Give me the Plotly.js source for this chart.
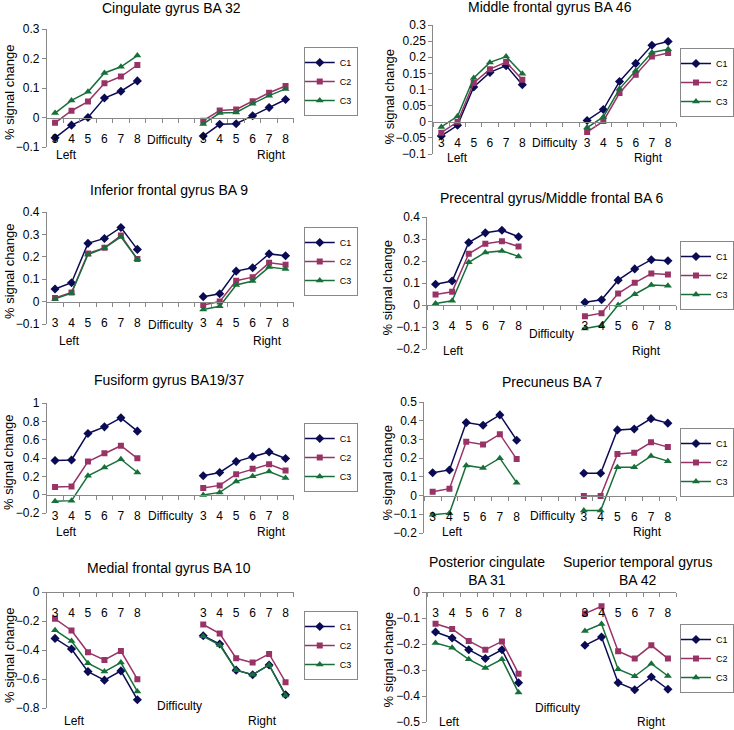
<!DOCTYPE html>
<html>
<head>
<meta charset="utf-8">
<script src="https://cdn.plot.ly/plotly-3.0.1.min.js"></script>
<style>
  html, body { margin: 0; padding: 0; background: #fff; }
  #chart { width: 734px; height: 730px; }
</style>
</head>
<body>
<div id="chart"></div>
<script>
// difficulty levels (same for left and right hemisphere)
const difficulty = [3, 4, 5, 6, 7, 8];
const diffLabels = ["3", "4", "5", "6", "7", "8"];
const condNames = ["C1", "C2", "C3"];

// Cingulate gyrus BA 32
const cing32_L1 = [-0.069, -0.026, 0.0, 0.066, 0.089, 0.124];
const cing32_L2 = [-0.018, 0.023, 0.054, 0.116, 0.139, 0.178];
const cing32_L3 = [0.015, 0.058, 0.087, 0.151, 0.172, 0.210];
const cing32_R1 = [-0.063, -0.023, -0.021, 0.006, 0.034, 0.061];
const cing32_R2 = [-0.011, 0.024, 0.027, 0.055, 0.084, 0.107];
const cing32_R3 = [-0.022, 0.015, 0.017, 0.047, 0.074, 0.097];

// Middle frontal gyrus BA 46
const mfg46_L1 = [-0.044, -0.011, 0.108, 0.153, 0.174, 0.115];
const mfg46_L2 = [-0.034, 0.0, 0.120, 0.163, 0.185, 0.130];
const mfg46_L3 = [-0.016, 0.017, 0.136, 0.184, 0.202, 0.149];
const mfg46_R1 = [0.004, 0.038, 0.125, 0.181, 0.237, 0.249];
const mfg46_R2 = [-0.032, 0.002, 0.089, 0.146, 0.202, 0.213];
const mfg46_R3 = [-0.018, 0.015, 0.102, 0.158, 0.215, 0.225];

// Inferior frontal gyrus BA 9
const ifg9_L1 = [0.056, 0.084, 0.260, 0.282, 0.331, 0.233];
const ifg9_L2 = [0.016, 0.041, 0.215, 0.240, 0.295, 0.190];
const ifg9_L3 = [0.012, 0.038, 0.210, 0.239, 0.289, 0.189];
const ifg9_R1 = [0.022, 0.035, 0.136, 0.151, 0.213, 0.205];
const ifg9_R2 = [-0.015, 0.0, 0.093, 0.109, 0.173, 0.164];
const ifg9_R3 = [-0.035, -0.021, 0.074, 0.092, 0.154, 0.145];

// Precentral gyrus / Middle frontal BA 6
const pcg6_L1 = [0.094, 0.109, 0.284, 0.328, 0.340, 0.310];
const pcg6_L2 = [0.048, 0.060, 0.233, 0.278, 0.290, 0.266];
const pcg6_L3 = [0.007, 0.019, 0.194, 0.239, 0.246, 0.221];
const pcg6_R1 = [0.012, 0.024, 0.113, 0.164, 0.206, 0.201];
const pcg6_R2 = [-0.051, -0.037, 0.052, 0.101, 0.143, 0.139];
const pcg6_R3 = [-0.107, -0.093, 0.0, 0.049, 0.091, 0.087];

// Fusiform gyrus BA19/37
const fus_L1 = [0.372, 0.379, 0.668, 0.740, 0.838, 0.693];
const fus_L2 = [0.083, 0.090, 0.361, 0.451, 0.534, 0.397];
const fus_L3 = [-0.072, -0.065, 0.206, 0.296, 0.386, 0.242];
const fus_R1 = [0.206, 0.242, 0.361, 0.415, 0.466, 0.394];
const fus_R2 = [0.072, 0.101, 0.224, 0.282, 0.332, 0.264];
const fus_R3 = [-0.004, 0.025, 0.144, 0.202, 0.253, 0.181];

// Precuneus BA 7
const prec7_L1 = [0.122, 0.137, 0.390, 0.376, 0.431, 0.296];
const prec7_L2 = [0.021, 0.037, 0.287, 0.273, 0.328, 0.195];
const prec7_L3 = [-0.103, -0.094, 0.161, 0.147, 0.200, 0.069];
const prec7_R1 = [0.119, 0.119, 0.351, 0.356, 0.411, 0.387];
const prec7_R2 = [-0.002, -0.002, 0.222, 0.229, 0.285, 0.259];
const prec7_R3 = [-0.080, -0.080, 0.151, 0.151, 0.211, 0.184];

// Medial frontal gyrus BA 10
const mefg10_L1 = [-0.320, -0.393, -0.549, -0.608, -0.544, -0.743];
const mefg10_L2 = [-0.185, -0.265, -0.416, -0.469, -0.407, -0.601];
const mefg10_L3 = [-0.263, -0.338, -0.491, -0.549, -0.487, -0.686];
const mefg10_R1 = [-0.302, -0.359, -0.539, -0.571, -0.503, -0.709];
const mefg10_R2 = [-0.224, -0.286, -0.457, -0.487, -0.427, -0.622];
const mefg10_R3 = [-0.306, -0.366, -0.539, -0.571, -0.503, -0.713];

// Posterior cingulate BA 31 (left) / Superior temporal gyrus BA 42 (right)
const pcstg_L1 = [-0.154, -0.177, -0.222, -0.256, -0.222, -0.349];
const pcstg_L2 = [-0.122, -0.142, -0.188, -0.222, -0.190, -0.314];
const pcstg_L3 = [-0.196, -0.214, -0.259, -0.292, -0.259, -0.387];
const pcstg_R1 = [-0.205, -0.173, -0.349, -0.376, -0.327, -0.374];
const pcstg_R2 = [-0.083, -0.055, -0.228, -0.256, -0.205, -0.256];
const pcstg_R3 = [-0.150, -0.123, -0.297, -0.324, -0.276, -0.323];

const W = 734, H = 730;
const FONT = "Liberation Sans, Arial, sans-serif";
const colors = ["#0b0b55", "#993366", "#17703a"];
const symbols = ["diamond", "square", "triangle-up"];
const rightOffset = 9; // right hemisphere sits 9 slots to the right

const fx = p => p / W;
const fy = p => 1 - p / H;

// geometry of each panel in pixels
const panels = [
  { titles: [["Cingulate gyrus BA 32", 172, 8]], x0: 47, x1: 295, top: 29, bot: 147,
    yr: [-0.1, 0.3], dtick: 0.1, L: [cing32_L1, cing32_L2, cing32_L3], R: [cing32_R1, cing32_R2, cing32_R3],
    leg: [305, 47], diff: [170, 140], left: [67, 155], right: [273, 155], ytitle: [9, 92] },
  { titles: [["Middle frontal gyrus BA 46", 552, 7]], x0: 435, x1: 679, top: 25, bot: 154,
    yr: [-0.1, 0.3], dtick: 0.05, L: [mfg46_L1, mfg46_L2, mfg46_L3], R: [mfg46_R1, mfg46_R2, mfg46_R3],
    leg: [737, 48], diff: [557, 143], left: [459, 158], right: [651, 158], ytitle: [392, 97] },
  { titles: [["Inferior frontal gyrus BA 9", 170, 190]], x0: 47, x1: 295, top: 212, bot: 324,
    yr: [-0.1, 0.4], dtick: 0.1, L: [ifg9_L1, ifg9_L2, ifg9_L3], R: [ifg9_R1, ifg9_R2, ifg9_R3],
    leg: [305, 227], diff: [171, 325], left: [70, 341], right: [269, 341], ytitle: [9, 271] },
  { titles: [["Precentral gyrus/Middle frontal BA 6", 554, 198]], x0: 429, x1: 679, top: 217, bot: 349,
    yr: [-0.2, 0.4], dtick: 0.1, L: [pcg6_L1, pcg6_L2, pcg6_L3], R: [pcg6_R1, pcg6_R2, pcg6_R3],
    leg: [737, 241], diff: [554, 334], left: [455, 351], right: [649, 351], ytitle: [390, 288] },
  { titles: [["Fusiform gyrus BA19/37", 170, 380]], x0: 47, x1: 295, top: 403, bot: 513,
    yr: [-0.2, 1], dtick: 0.2, L: [fus_L1, fus_L2, fus_L3], R: [fus_R1, fus_R2, fus_R3],
    leg: [305, 423], diff: [171, 516], left: [67, 532], right: [273, 532], ytitle: [9, 462] },
  { titles: [["Precuneus BA 7", 555, 382]], x0: 426, x1: 679, top: 402, bot: 533,
    yr: [-0.2, 0.5], dtick: 0.1, L: [prec7_L1, prec7_L2, prec7_L3], R: [prec7_R1, prec7_R2, prec7_R3],
    leg: [737, 428], diff: [555, 516], left: [454, 532], right: [650, 532], ytitle: [390, 473] },
  { titles: [["Medial frontal gyrus BA 10", 170, 568]], x0: 47, x1: 295, top: 592, bot: 708,
    yr: [-0.8, 0], dtick: 0.2, L: [mefg10_L1, mefg10_L2, mefg10_L3], R: [mefg10_R1, mefg10_R2, mefg10_R3],
    leg: [305, 611], diff: [180, 706], left: [75, 721], right: [264, 721], ytitle: [9, 655] },
  { titles: [["Posterior cingulate<br>BA 31", 489, 571], ["Superior temporal gyrus<br>BA 42", 640, 571]],
    x0: 429, x1: 679, top: 592, bot: 722,
    yr: [-0.5, 0], dtick: 0.1, L: [pcstg_L1, pcstg_L2, pcstg_L3], R: [pcstg_R1, pcstg_R2, pcstg_R3],
    leg: [737, 624], diff: [560, 708], left: [451, 722], right: [654, 722], ytitle: [390, 660] }
];

const traces = [];
const annotations = [];
const layout = {
  width: W, height: H,
  margin: { l: 0, r: 0, t: 0, b: 0 },
  paper_bgcolor: "#fff", plot_bgcolor: "#fff",
  font: { family: FONT, color: "#000", size: 12 },
  annotations: annotations
};

const rightX = difficulty.map(d => d + rightOffset);

panels.forEach((p, i) => {
  const n = i + 1;
  const sfx = n === 1 ? "" : String(n);
  const legName = "legend" + sfx;
  const yDom = [fy(p.bot), fy(p.top)];
  // x axis line crosses at y = 0, like the original
  const zeroPos = yDom[0] + (0 - p.yr[0]) / (p.yr[1] - p.yr[0]) * (yDom[1] - yDom[0]);

  layout["xaxis" + sfx] = {
    domain: [fx(p.x0), fx(p.x1)],
    range: [difficulty[0] - 0.5, rightX[rightX.length - 1] + 0.5],
    anchor: "free", position: zeroPos,
    showline: true, linecolor: "#888", linewidth: 1,
    tickmode: "array",
    tickvals: difficulty.concat(rightX),
    ticktext: diffLabels.concat(diffLabels),
    ticks: "",
    ticklabelstandoff: 10,
    minor: { tickmode: "linear", tick0: difficulty[0] - 0.5, dtick: 1, ticks: "outside", ticklen: 4, tickcolor: "#888" },
    showgrid: false, zeroline: false,
    tickfont: { size: 12, color: "#000" },
    fixedrange: true
  };
  layout["yaxis" + sfx] = {
    domain: yDom, range: p.yr, anchor: "x" + sfx,
    tick0: 0, dtick: p.dtick,
    showline: true, linecolor: "#888", linewidth: 1,
    ticks: "outside", ticklen: 4, tickcolor: "#888",
    showgrid: false, zeroline: false,
    tickfont: { size: 12, color: "#000" },
    fixedrange: true
  };
  const rightCol = p.leg[0] > 600;
  layout[legName] = {
    x: fx(p.leg[0]), y: fy(p.leg[1]),
    xanchor: rightCol ? "right" : "left", yanchor: "top",
    bordercolor: "#888", borderwidth: 1, bgcolor: "#fff",
    font: { size: 9, color: "#000" },
    itemwidth: 30, tracegroupgap: 0, indentation: -5
  };

  for (let k = 0; k < 3; k++) {
    const common = {
      type: "scatter", mode: "lines+markers",
      xaxis: "x" + sfx, yaxis: "y" + sfx,
      name: condNames[k], legend: legName, legendgroup: "p" + n + "c" + k,
      line: { color: colors[k], width: 1.5 },
      marker: { color: colors[k], symbol: symbols[k], size: k === 1 ? 6 : 7 },
      hoverinfo: "skip"
    };
    traces.push(Object.assign({}, common, { x: difficulty, y: p.L[k], showlegend: true }));
    traces.push(Object.assign({}, common, { x: rightX, y: p.R[k], showlegend: false }));
  }

  p.titles.forEach(t => {
    annotations.push({ text: t[0], x: fx(t[1]), y: fy(t[2]), xref: "paper", yref: "paper",
      xanchor: "center", yanchor: "middle", showarrow: false,
      font: { size: 14, color: "#000" } });
  });
  const lbl = (text, pos) => annotations.push({ text: text, x: fx(pos[0]), y: fy(pos[1]),
    xref: "paper", yref: "paper", xanchor: "center", yanchor: "middle", showarrow: false,
    font: { size: 12, color: "#000" } });
  lbl("Difficulty", p.diff);
  lbl("Left", p.left);
  lbl("Right", p.right);
  annotations.push({ text: "% signal change", x: fx(p.ytitle[0]), y: fy(p.ytitle[1]),
    xref: "paper", yref: "paper", xanchor: "center", yanchor: "middle", textangle: -90,
    showarrow: false, font: { size: 13, color: "#000" } });
});

Plotly.newPlot("chart", traces, layout, { staticPlot: true });
</script>
</body>
</html>
